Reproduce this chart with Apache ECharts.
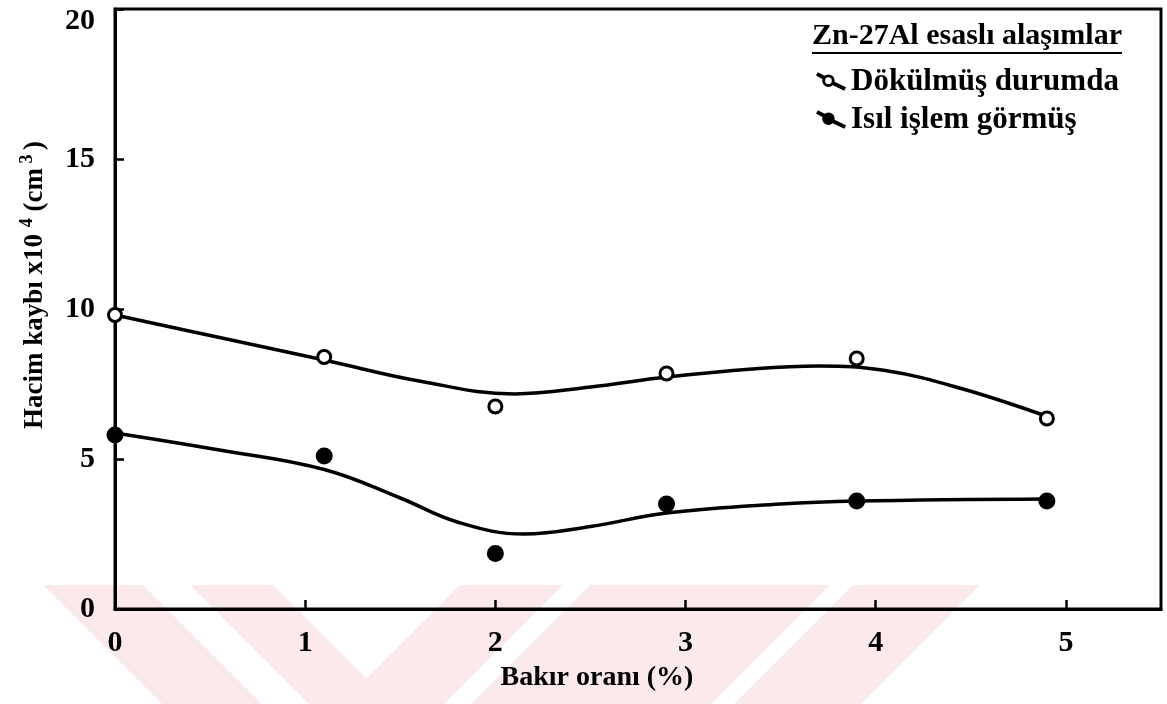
<!DOCTYPE html>
<html>
<head>
<meta charset="utf-8">
<script src="https://cdn.jsdelivr.net/npm/echarts@6/dist/echarts.min.js"></script>
<style>
html,body{margin:0;padding:0;background:#fff;}
#chart{width:1167px;height:704px;}
</style>
</head>
<body>
<div id="chart"></div>
<script>
// ---- data ----
const castX = [0, 1.1, 2.0, 2.9, 3.9, 4.9];
const castY = [9.8, 8.4, 6.75, 7.85, 8.35, 6.35];
const heatX = [0, 1.1, 2.0, 2.9, 3.9, 4.9];
const heatY = [5.8, 5.1, 1.85, 3.5, 3.6, 3.6];
// fitted curves
const castFitX = [0, 0.55, 1.1, 1.6, 2.1, 2.5, 2.9, 3.35, 3.7, 4.05, 4.45, 4.91];
const castFitY = [9.8, 9.05, 8.3, 7.6, 7.17, 7.4, 7.73, 8.0, 8.1, 7.95, 7.35, 6.4];
const heatFitX = [0, 0.55, 1.1, 1.5, 1.8, 2.15, 2.5, 2.9, 3.5, 3.9, 4.91];
const heatFitY = [5.87, 5.3, 4.65, 3.7, 2.9, 2.5, 2.75, 3.2, 3.5, 3.6, 3.67];
const seriesNames = ['Dökülmüş durumda', 'Isıl işlem görmüş'];
const legendTitle = 'Zn-27Al esaslı alaşımlar';
const xAxisTitle = 'Bakır oranı (%)';
const yAxisTitle = 'Hacim kaybı x10 {s|4} (cm{s| 3 })';

const FONT = '"Liberation Serif", "Times New Roman", serif';
const zip = (xs, ys) => xs.map((x, i) => [x, ys[i]]);

// legend icons: stroke through a ring / disc
const segs = 'M1.9 -0.6 L8.4 2.9 L6.6 6.1 L0.1 2.6 Z M17.3 8.3 L28.8 13.8 L27.2 17.2 L15.7 11.7 Z ';
const disc = 'M6 7.5 A6 6 0 1 1 18 7.5 A6 6 0 1 1 6 7.5 Z ';
const hole = 'M8.8 7.5 A3.2 3.2 0 1 0 15.2 7.5 A3.2 3.2 0 1 0 8.8 7.5 Z';
const iconOpen = 'path://' + segs + disc + hole;
const iconFilled = 'path://' + segs + disc;

const pink = '#fce9ec';
const wm = (pts) => ({ type: 'polygon', z: -10, silent: true, shape: { points: pts }, style: { fill: pink } });

const chart = echarts.init(document.getElementById('chart'), null, { renderer: 'canvas' });
chart.setOption({
  animation: false,
  backgroundColor: '#fff',
  grid: { left: 115, right: 6, top: 9, bottom: 95, show: true, borderColor: '#000', borderWidth: 3, backgroundColor: 'transparent', z: 1 },
  xAxis: {
    type: 'value', min: 0, max: 5.5, interval: 1,
    name: xAxisTitle, nameLocation: 'middle', nameGap: 55,
    nameTextStyle: { fontFamily: FONT, fontSize: 28, fontWeight: 'bold', color: '#000', padding: [0, 82, 0, 0] },
    axisLine: { lineStyle: { color: '#000', width: 3 } },
    axisTick: { inside: true, length: 9, lineStyle: { color: '#000', width: 2.5 } },
    axisLabel: { margin: 19, fontFamily: FONT, fontSize: 30, fontWeight: 'bold', color: '#000', showMaxLabel: false,
      formatter: v => (Number.isInteger(v) ? String(v) : '') },
    splitLine: { show: false }
  },
  yAxis: {
    type: 'value', min: 0, max: 20, interval: 5,
    axisLine: { show: true, lineStyle: { color: '#000', width: 3 } },
    axisTick: { show: true, inside: true, length: 9, lineStyle: { color: '#000', width: 2.5 } },
    axisLabel: { margin: 20, fontFamily: FONT, fontSize: 30, fontWeight: 'bold', color: '#000',
      formatter: v => (v === 20 ? '{t|20}' : String(v)),
      rich: { t: { fontFamily: FONT, fontSize: 30, fontWeight: 'bold', color: '#000', padding: [24, 0, 0, 0] } } },
    splitLine: { show: false }
  },
  legend: {
    orient: 'vertical', left: 811, top: 61, itemGap: 7, itemWidth: 30, itemHeight: 19,
    textStyle: { fontFamily: FONT, fontSize: 31, fontWeight: 'bold', color: '#000', lineHeight: 30 },
    data: [
      { name: seriesNames[0], icon: iconOpen, itemStyle: { color: '#000', borderWidth: 0 } },
      { name: seriesNames[1], icon: iconFilled, itemStyle: { color: '#000', borderWidth: 0 } }
    ]
  },
  graphic: [
    wm([[43,585],[143,585],[262,704],[162,704]]),
    wm([[190,585],[273,585],[392,704],[309,704]]),
    wm([[460,585],[563,585],[444,704],[341,704]]),
    wm([[590,585],[830,585],[711,704],[471,704]]),
    wm([[853,585],[980,585],[861,704],[734,704]]),
    { type: 'text', left: 812, top: 21, z: 10,
      style: { text: legendTitle, font: 'bold 30px ' + FONT, fill: '#000' } },
    { type: 'line', z: 10, shape: { x1: 812, y1: 53, x2: 1122, y2: 53 }, style: { stroke: '#000', lineWidth: 2 } },
    { type: 'text', x: 35, y: 285, rotation: Math.PI / 2, z: 10,
      style: { text: yAxisTitle, font: 'bold 27px ' + FONT, fill: '#000', align: 'center', verticalAlign: 'middle',
        lineHeight: 34,
        rich: { s: { font: 'bold 18px ' + FONT, fill: '#000', verticalAlign: 'top', lineHeight: 20 } } } }
  ],
  series: [
    { name: seriesNames[0], type: 'line', data: zip(castFitX, castFitY), smooth: 0.4, showSymbol: false, symbol: 'none',
      lineStyle: { color: '#000', width: 3.5 }, z: 2 },
    { name: seriesNames[1], type: 'line', data: zip(heatFitX, heatFitY), smooth: 0.4, showSymbol: false, symbol: 'none',
      lineStyle: { color: '#000', width: 3.5 }, z: 2 },
    { name: seriesNames[0], type: 'scatter', data: zip(castX, castY), symbol: 'circle', symbolSize: 13,
      itemStyle: { color: '#fff', borderColor: '#000', borderWidth: 3, opacity: 1 }, z: 3 },
    { name: seriesNames[1], type: 'scatter', data: zip(heatX, heatY), symbol: 'circle', symbolSize: 17,
      itemStyle: { color: '#000', opacity: 1 }, z: 3 }
  ]
});
</script>
</body>
</html>
